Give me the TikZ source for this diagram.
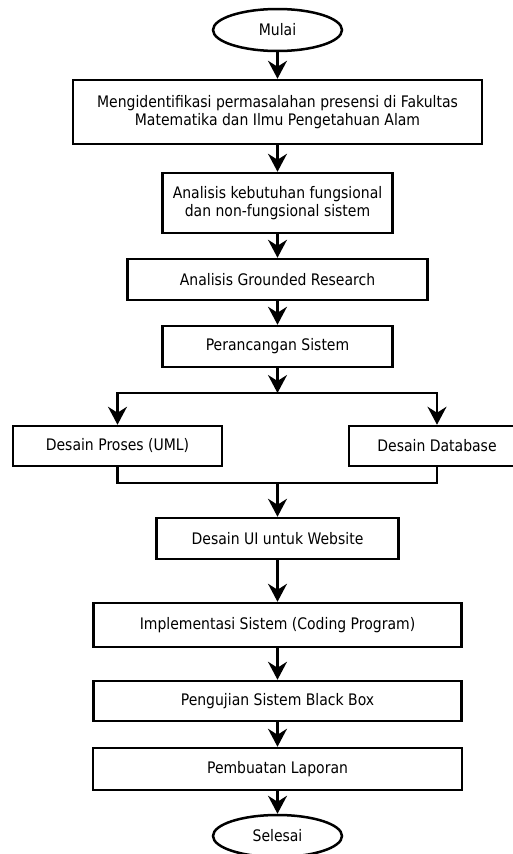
\documentclass[tikz,border=0pt]{standalone}
\usepackage{fontspec}
\setmainfont{DejaVu Sans}[FakeStretch=0.88]
\usetikzlibrary{arrows.meta,shapes.geometric}

\begin{document}
\begin{tikzpicture}[
        x=1pt, y=-1pt, % satuan piksel, sumbu y ke bawah
        every node/.style = {font=\fontsize{15.9}{17.5}\selectfont},
        blok/.style = {draw, line width=2.5pt, inner sep=0pt, align=center, minimum height=41pt}, % kotak proses
        terminal/.style = {draw, ellipse, line width=2.5pt, inner sep=0pt, minimum width=129pt, minimum height=42pt}, % mulai / selesai
        panah/.style = {line width=2.2pt, -{Stealth[length=18pt, width=19pt, inset=6pt]}},
        garis/.style = {line width=2.2pt},
    ]
    \useasboundingbox (0,0) rectangle (513,854);
    \clip (0,0) rectangle (513,854);

    \node[terminal] (mulai) at (277.5,30) {Mulai};
    \node[blok, minimum width=409pt, minimum height=64pt] (identifikasi) at (277.5,112) {Mengidentifikasi permasalahan presensi di Fakultas\\Matematika dan Ilmu Pengetahuan Alam};
    \node[blok, minimum width=230pt, minimum height=60pt] (kebutuhan) at (277.5,203) {Analisis kebutuhan fungsional\\dan non-fungsional sistem};
    \node[blok, minimum width=300pt] (grounded) at (277.5,279.5) {Analisis Grounded Research};
    \node[blok, minimum width=230pt] (rancang) at (277.5,346.5) {Perancangan Sistem};
    \node[blok, minimum width=209pt, minimum height=40pt] (proses) at (117.5,446) {Desain Proses (UML)};
    \node[blok, minimum width=176pt, minimum height=40pt] (database) at (437,446) {Desain Database};
    \node[blok, minimum width=242pt] (ui) at (277.5,538.5) {Desain UI untuk Website};
    \node[blok, minimum width=368pt, minimum height=44pt] (implementasi) at (277.5,625) {Implementasi Sistem (Coding Program)};
    \node[blok, minimum width=368pt, minimum height=40pt] (pengujian) at (277.5,701) {Pengujian Sistem Black Box};
    \node[blok, minimum width=369pt, minimum height=42pt] (laporan) at (277.5,769) {Pembuatan Laporan};
    \node[terminal] (selesai) at (277.5,836) {Selesai};

    \coordinate (cabang) at (277.5,393); % titik percabangan
    \coordinate (gabung) at (277.5,483); % titik penggabungan

    \draw[panah] (mulai) -- (identifikasi);
    \draw[panah] (identifikasi) -- (kebutuhan);
    \draw[panah] (kebutuhan) -- (grounded);
    \draw[panah] (grounded) -- (rancang);
    \draw[panah] (rancang) -- (cabang);
    \draw[panah] (cabang) -| (proses);
    \draw[panah] (cabang) -| (database);
    \draw[garis] (proses) |- (gabung) -| (database);
    \draw[panah] (gabung) -- (ui);
    \draw[panah] (ui) -- (implementasi);
    \draw[panah] (implementasi) -- (pengujian);
    \draw[panah] (pengujian) -- (laporan);
    \draw[panah] (laporan) -- (selesai);
\end{tikzpicture}
\end{document}
